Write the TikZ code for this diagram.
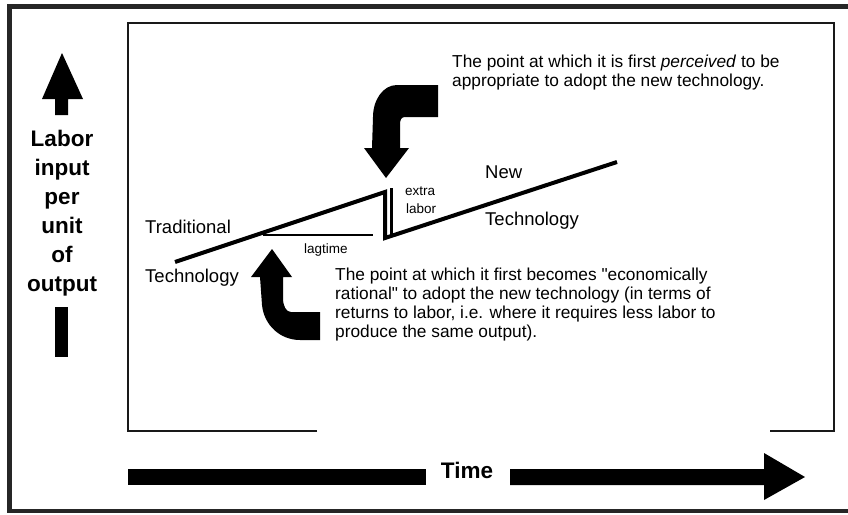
\documentclass[tikz,border=0pt]{standalone}
\usepackage{fontspec}
\setmainfont{Liberation Sans}
\begin{document}
\begin{tikzpicture}[x=1pt,y=-1pt,
  outerframe/.style={draw=black!85,line width=4.5pt},
  panelbox/.style={draw=black!90,line width=1.6pt},
  curveline/.style={line width=4pt,line cap=butt,line join=miter},
  lagline/.style={line width=2.8pt},
  extraline/.style={line width=2.2pt},
  blockarrow/.style={fill=black,draw=none},
  axistext/.style={font=\fontsize{22.5}{24}\selectfont\bfseries,inner sep=0pt,anchor=base},
  curvetext/.style={font=\fontsize{18.5}{20}\selectfont,inner sep=0pt,anchor=base west},
  tagtext/.style={font=\fontsize{13.5}{14}\selectfont,inner sep=0pt,anchor=base west},
  notetext/.style={font=\fontsize{17.3}{18.7}\selectfont,inner sep=0pt,anchor=base west,align=left}]
\useasboundingbox (0,0) rectangle (848,514);

% outer frame (right edge lies beyond the page)
\draw[outerframe] (9.5,6.5) rectangle (856,511);

% chart panel, open along the bottom below the lower note
\draw[panelbox] (317,431) -- (128,431) -- (128,23) -- (834,23) -- (834,431) -- (770,431);

% vertical axis: arrow, words, bar
\fill[blockarrow] (55,115) -- (55,99) -- (42,99) -- (62,53) -- (83,99) -- (68,99) -- (68,115) -- cycle;
\node[axistext] (ax1) at (62,146) {Labor};
\node[axistext] (ax2) at (62,175) {input};
\node[axistext] (ax3) at (62,204) {per};
\node[axistext] (ax4) at (62,233) {unit};
\node[axistext] (ax5) at (62,262) {of};
\node[axistext] (ax6) at (62,291) {output};
\fill[blockarrow] (55,307) rectangle (68,357);

% horizontal axis: bar, word, arrow
\fill[blockarrow] (128,469) rectangle (426,485);
\node[axistext] (time) at (467,478) {Time};
\fill[blockarrow] (510,469) -- (764,469) -- (764,453) -- (805,477) -- (764,500) -- (764,485) -- (510,485) -- cycle;

% technology curves
\coordinate (tradA) at (175,262);
\coordinate (tradB) at (385,192);
\coordinate (jumpB) at (385,238);
\coordinate (newB) at (617,162);
\draw[curveline] (tradA) -- (tradB) -- (jumpB) -- (newB);
\coordinate (extA) at (391.5,188);
\coordinate (extB) at (391.5,236);
\draw[extraline] (extA) -- (extB);
\coordinate (lagA) at (263,235);
\coordinate (lagB) at (373,235);
\draw[lagline] (lagA) -- (lagB);

\node[curvetext] (trad1) at (145,233) {Traditional};
\node[curvetext] (trad2) at (145,282) {Technology};
\node[curvetext] (new1) at (485,178) {New};
\node[curvetext] (new2) at (485,225) {Technology};
\node[tagtext] (lag) at (304,253) {lagtime};
\node[tagtext] (extra1) at (405,195) {extra};
\node[tagtext] (extra2) at (406,213) {labor};

% bent pointer from the upper note down to the jump
\fill[blockarrow] (438,85) -- (397,85) .. controls (383,85) and (373,100) .. (373,117)
  -- (372,148) -- (364,148) -- (386,178) -- (409,148) -- (400,148) -- (400,125)
  .. controls (400,120) and (401,117) .. (405,117) -- (438,117) -- cycle;

% bent pointer from the lower note up to the crossing
\fill[blockarrow] (260,277) -- (262,305) .. controls (264,325) and (280,340) .. (300,340)
  -- (320,340) -- (320,312) -- (291,312) .. controls (286,312) and (283,306) .. (283,298)
  -- (283,277) -- (292,277) -- (272,249) -- (251,277) -- cycle;

% notes
\node[notetext] (topnote) at (452,86) {The point at which it is first \textit{perceived} to be\\appropriate to adopt the new technology.};
\node[notetext] (botnote) at (335,337) {The point at which it first becomes \textquotedbl economically\\rational\textquotedbl{} to adopt the new technology (in terms of\\returns to labor, i.e. where it requires less labor to\\produce the same output).};
\end{tikzpicture}
\end{document}
